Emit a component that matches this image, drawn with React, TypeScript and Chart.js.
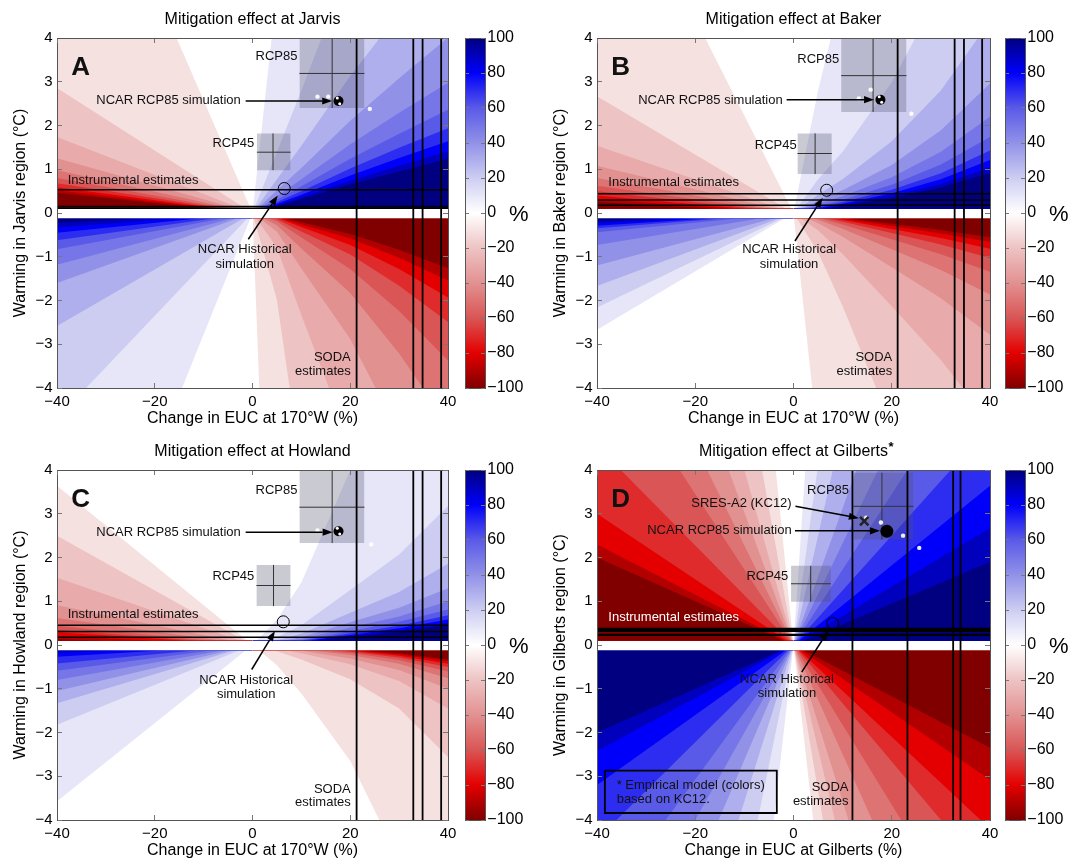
import React, { useEffect, useRef } from "react";
import { Chart, registerables } from "chart.js";

Chart.register(...registerables);

const FONT = '"Liberation Sans", Arial, Helvetica, sans-serif';
Chart.defaults.font.family = FONT;
Chart.defaults.color = "#000";

// ---------------- axes / scale data ----------------
const X_TICKS = [-40, -20, 0, 20, 40];
const Y_TICKS = [-4, -3, -2, -1, 0, 1, 2, 3, 4];
const COLORBAR_TICKS = [-100, -80, -60, -40, -20, 0, 20, 40, 60, 80, 100];
// contour levels (% mitigation) drawn as filled bands, and the |EUC change| samples of curved contours
const LEVELS = [5, 15, 25, 35, 45, 55, 65, 75, 85, 95];
const X_SAMPLES = [0, 5, 10, 20, 30, 40];

// ---------------- Jarvis (A) ----------------
// straight-ray quadrants: warming (°C) of each level contour at EUC change = -40 %
const jarvisUpperLeft = [10.3, 2.86, 1.74, 1.25, 0.98, 0.8, 0.68, 0.59, 0.52, 0.465];
const jarvisLowerLeft = [-11.1, -4.7, -2.58, -1.6, -1.18, -0.83, -0.62, -0.45, -0.33, -0.22];
// curved quadrants: warming of each level contour at X_SAMPLES
const jarvisUpperRight = [
  [0, 5.1, 10.2, 20.8, 30.3, 39.6],
  [0, 1.4, 2.8, 5.71, 8.3, 10.9],
  [0, 0.77, 1.54, 3.13, 4.57, 5.95],
  [0, 0.52, 1.03, 2.11, 3.08, 4.01],
  [0, 0.385, 0.77, 1.57, 2.29, 2.98],
  [0, 0.305, 0.61, 1.24, 1.81, 2.36],
  [0, 0.25, 0.5, 1.02, 1.49, 1.94],
  [0, 0.21, 0.42, 0.86, 1.26, 1.64],
  [0, 0.18, 0.365, 0.74, 1.08, 1.41],
  [0, 0.16, 0.32, 0.65, 0.95, 1.24],
];
const jarvisLowerRight = [
  [0, -14.4, -42, -96, -170, -250],
  [0, -1.99, -5.85, -13.2, -23, -35],
  [0, -0.79, -2.33, -5.28, -9.2, -13.9],
  [0, -0.43, -1.27, -2.88, -5.04, -7.6],
  [0, -0.28, -0.81, -1.83, -3.21, -4.83],
  [0, -0.19, -0.56, -1.28, -2.24, -3.37],
  [0, -0.14, -0.42, -0.95, -1.66, -2.49],
  [0, -0.11, -0.32, -0.73, -1.28, -1.93],
  [0, -0.09, -0.26, -0.58, -1.02, -1.54],
  [0, -0.07, -0.21, -0.48, -0.84, -1.26],
];
const jarvisInstrumental = [0.53, 0.15, 0.11];
const jarvisSoda = [21.3, 32.9, 34.8, 38.6];
const jarvisRcp85 = [9.6, 22.9, 2.4, 4.0, 16.3, 3.19]; // xmin, xmax, ymin, ymax, centre x, centre y
const jarvisRcp45 = [0.9, 7.8, 0.98, 1.82, 4.2, 1.39];
const jarvisNcarRcp85 = [{ x: 17.6, y: 2.56 }];
const jarvisNcarMembers = [{ x: 17.35, y: 2.63 }, { x: 17.85, y: 2.5 }];
const jarvisEnsemble = [{ x: 13.3, y: 2.66 }, { x: 15.5, y: 2.66 }, { x: 24, y: 2.38 }];
const jarvisHistorical = [{ x: 6.5, y: 0.56 }];

// ---------------- Baker (B) ----------------
const bakerUpperLeft = [8.9, 2.67, 1.54, 1.08, 0.8, 0.625, 0.5, 0.4, 0.32, 0.25];
const bakerLowerLeft = [-2.67, -2.16, -1.67, -1.2, -0.73, -0.44, -0.35, -0.29, -0.235, -0.18];
const bakerUpperRight = [
  [0, 2.8, 5.1, 10.9, 18.6, 29],
  [0, 0.77, 1.4, 2.99, 5.1, 8.0],
  [0, 0.42, 0.77, 1.64, 2.8, 4.39],
  [0, 0.284, 0.518, 1.1, 1.89, 2.96],
  [0, 0.211, 0.385, 0.82, 1.4, 2.2],
  [0, 0.167, 0.305, 0.648, 1.107, 1.74],
  [0, 0.137, 0.25, 0.533, 0.91, 1.43],
  [0, 0.116, 0.212, 0.45, 0.77, 1.21],
  [0, 0.1, 0.182, 0.388, 0.664, 1.04],
  [0, 0.088, 0.16, 0.34, 0.582, 0.913],
];
const bakerLowerRight = [
  [0, -5.26, -12.6, -28.6, -45, -64],
  [0, -0.895, -2.13, -4.87, -7.66, -10.9],
  [0, -0.392, -0.936, -2.13, -3.36, -4.79],
  [0, -0.228, -0.544, -1.24, -1.95, -2.78],
  [0, -0.152, -0.362, -0.827, -1.3, -1.86],
  [0, -0.11, -0.263, -0.599, -0.942, -1.34],
  [0, -0.084, -0.2, -0.457, -0.72, -1.03],
  [0, -0.067, -0.159, -0.363, -0.571, -0.815],
  [0, -0.054, -0.13, -0.296, -0.466, -0.665],
  [0, -0.046, -0.109, -0.248, -0.39, -0.556],
];
const bakerInstrumental = [0.44, 0.3, 0.18];
const bakerSoda = [21.2, 32.8, 34.7, 38.4];
const bakerRcp85 = [9.7, 23.0, 2.31, 4.0, 16.2, 3.14];
const bakerRcp45 = [0.8, 7.8, 0.89, 1.82, 4.4, 1.36];
const bakerNcarRcp85 = [{ x: 17.7, y: 2.59 }];
const bakerNcarMembers = [{ x: 17.45, y: 2.66 }, { x: 17.95, y: 2.53 }];
const bakerEnsemble = [{ x: 13.3, y: 2.62 }, { x: 15.7, y: 2.82 }, { x: 24, y: 2.27 }];
const bakerHistorical = [{ x: 6.75, y: 0.52 }];

// ---------------- Howland (C) ----------------
const howlandUpperLeft = [3.64, 2.5, 1.54, 0.91, 0.62, 0.44, 0.35, 0.29, 0.2, 0.133];
const howlandLowerLeft = [-3.57, -1.82, -1.33, -1.05, -0.8, -0.59, -0.42, -0.27, -0.18, -0.125];
const howlandUpperRight = [
  [0, 0.58, 1.43, 4.0, 6.6, 10.1],
  [0, 0.18, 0.45, 1.26, 2.07, 3.18],
  [0, 0.11, 0.26, 0.74, 1.21, 1.86],
  [0, 0.075, 0.18, 0.52, 0.85, 1.3],
  [0, 0.058, 0.14, 0.4, 0.65, 1.0],
  [0, 0.047, 0.11, 0.32, 0.53, 0.81],
  [0, 0.04, 0.096, 0.27, 0.44, 0.68],
  [0, 0.034, 0.082, 0.231, 0.381, 0.584],
  [0, 0.03, 0.072, 0.203, 0.334, 0.512],
  [0, 0.027, 0.064, 0.181, 0.298, 0.455],
];
const howlandLowerRight = [
  [0, -0.46, -1.11, -2.65, -4.92, -8.7],
  [0, -0.14, -0.33, -0.78, -1.45, -2.56],
  [0, -0.078, -0.19, -0.44, -0.82, -1.45],
  [0, -0.053, -0.13, -0.31, -0.57, -1.0],
  [0, -0.04, -0.097, -0.23, -0.43, -0.76],
  [0, -0.032, -0.078, -0.184, -0.343, -0.605],
  [0, -0.027, -0.064, -0.153, -0.285, -0.502],
  [0, -0.023, -0.055, -0.13, -0.243, -0.429],
  [0, -0.02, -0.048, -0.113, -0.212, -0.373],
  [0, -0.018, -0.042, -0.1, -0.187, -0.329],
];
const howlandInstrumental = [0.45, 0.31, 0.18];
const howlandSoda = [21.3, 32.9, 34.8, 38.6];
const howlandRcp85 = [9.6, 22.9, 2.33, 4.0, 16.3, 3.15];
const howlandRcp45 = [0.8, 7.8, 0.89, 1.83, 4.3, 1.36];
const howlandNcarRcp85 = [{ x: 17.6, y: 2.6 }];
const howlandNcarMembers = [{ x: 17.35, y: 2.67 }, { x: 17.85, y: 2.54 }];
const howlandEnsemble = [{ x: 13.3, y: 2.62 }, { x: 24.3, y: 2.3 }];
const howlandHistorical = [{ x: 6.3, y: 0.53 }];

// ---------------- Gilberts (D, empirical KC12 model: all straight rays) ----------------
const gilbertsUpperLeft = [44.4, 25, 16, 12.1, 9.1, 6.9, 4.55, 3.0, 2.3, 2.0];
const gilbertsLowerLeft = [-40, -22, -14.3, -10.5, -8, -6.15, -4.44, -3.2, -2.42, -2.0];
const gilbertsUpperRight = [67, 33, 20, 12.5, 9.3, 6.9, 5.0, 3.64, 2.67, 1.9]; // at EUC change = +40 %
const gilbertsLowerRight = [-40, -26.7, -19, -14.3, -10, -7.3, -5.33, -4.2, -3.08, -2.35];
const gilbertsInstrumental = [0.37, 0.32, 0.23];
const gilbertsSoda = [12.0, 23.2, 32.5, 34.0];
const gilbertsRcp85 = [12.2, 24.4, 2.41, 3.94, 18.0, 3.17];
const gilbertsRcp45 = [-0.5, 7.6, 0.99, 1.81, 3.5, 1.4];
const gilbertsNcarRcp85 = [{ x: 19.0, y: 2.6 }];
const gilbertsEnsemble = [{ x: 14.8, y: 2.91 }, { x: 17.8, y: 2.8 }, { x: 22.3, y: 2.5 }, { x: 25.6, y: 2.22 }];
const gilbertsHistorical = [{ x: 8.0, y: 0.49 }];
const gilbertsSresA2 = [{ x: 14.4, y: 2.83 }];

// ---------------- styles ----------------
const BLUE_BANDS = ["#e6e6f8", "#cdcdf2", "#afafed", "#9191e8", "#7676e8", "#5a5ae8", "#2d2df1", "#0000fa", "#0000bd", "#000080"];
const RED_BANDS = ["#f6e1e1", "#eec3c3", "#e8aaaa", "#e29191", "#de7373", "#da5555", "#df2b2b", "#e40000", "#b20000", "#800000"];
const COLORBAR_COLORS = ["#800000", "#e40000", "#da5555", "#e29191", "#eec3c3", "#ffffff", "#cdcdf2", "#9191e8", "#5a5ae8", "#0000fa", "#000080"];
const BOX_FILL = "rgba(80,80,110,0.3)";
const CROSS_COLOR = "#333";

const fmt = (v: number) => (v < 0 ? "\u2212" + Math.abs(v) : String(v));

type Pt = { x: number; y: number };

function contour(row: any, side: number): Pt[] {
  if (typeof row === "number") {
    return side < 0
      ? [{ x: -40, y: row }, { x: 0, y: 0 }]
      : [{ x: 0, y: 0 }, { x: 40, y: row }];
  }
  const pts = X_SAMPLES.map((x, i) => ({ x: side * x, y: row[i] }));
  return side < 0 ? pts.reverse() : pts;
}

function fillSet(data: Pt[], base: number, color: string) {
  return {
    data,
    fill: { value: base },
    backgroundColor: color,
    borderColor: "rgba(0,0,0,0)",
    borderWidth: 0,
    pointRadius: 0,
    tension: 0,
  };
}
function lineSet(data: Pt[], color: string, width: number) {
  return { data, fill: false, borderColor: color, borderWidth: width, pointRadius: 0, tension: 0 };
}
function pointSet(data: Pt[], o: any) {
  return {
    data,
    showLine: false,
    fill: false,
    pointRadius: o.r,
    pointHoverRadius: o.r,
    pointBackgroundColor: o.bg,
    pointBorderColor: o.border || o.bg,
    pointBorderWidth: o.bw || 0,
    pointStyle: o.style || "circle",
    borderColor: o.border || o.bg,
  };
}

const PANELS: any[] = [
  {
    left: 0, top: 0, width: 540, padRight: 92,
    title: "Mitigation effect at Jarvis", star: false,
    xTitle: "Change in EUC at 170°W (%)", yTitle: "Warming in Jarvis region (°C)",
    ul: jarvisUpperLeft, ll: jarvisLowerLeft, ur: jarvisUpperRight, lr: jarvisLowerRight,
    instrumental: jarvisInstrumental, instW: 1.5, soda: jarvisSoda, rcp85: jarvisRcp85, rcp45: jarvisRcp45,
    ncar: jarvisNcarRcp85, ncarR: 5, members: jarvisNcarMembers, ensemble: jarvisEnsemble, historical: jarvisHistorical,
    labels: [
      { text: "A", x: -37.1, y: 3.16, align: "left", size: 26, bold: true, baseline: "alphabetic" },
      { text: "RCP85", x: 9.2, y: 3.57, align: "right" },
      { text: "NCAR RCP85 simulation", x: -2.4, y: 2.58, align: "right" },
      { text: "RCP45", x: 0.37, y: 1.59, align: "right" },
      { text: "Instrumental estimates", x: -37.8, y: 0.74, align: "left" },
      { text: "NCAR Historical", x: -1.58, y: -0.84, align: "center" },
      { text: "simulation", x: -1.58, y: -1.18, align: "center" },
      { text: "SODA", x: 20.1, y: -3.3, align: "right" },
      { text: "estimates", x: 20.1, y: -3.63, align: "right" },
    ],
    arrows: [[-1.4, 2.56, 16.3, 2.56], [-0.86, -0.6, 5.16, 0.4]],
  },
  {
    left: 540, top: 0, width: 543, padRight: 93,
    title: "Mitigation effect at Baker", star: false,
    xTitle: "Change in EUC at 170°W (%)", yTitle: "Warming in Baker region (°C)",
    ul: bakerUpperLeft, ll: bakerLowerLeft, ur: bakerUpperRight, lr: bakerLowerRight,
    instrumental: bakerInstrumental, instW: 1.5, soda: bakerSoda, rcp85: bakerRcp85, rcp45: bakerRcp45,
    ncar: bakerNcarRcp85, ncarR: 5, members: bakerNcarMembers, ensemble: bakerEnsemble, historical: bakerHistorical,
    labels: [
      { text: "B", x: -37.1, y: 3.16, align: "left", size: 26, bold: true, baseline: "alphabetic" },
      { text: "RCP85", x: 9.3, y: 3.52, align: "right" },
      { text: "NCAR RCP85 simulation", x: -2.2, y: 2.58, align: "right" },
      { text: "RCP45", x: 0.65, y: 1.54, align: "right" },
      { text: "Instrumental estimates", x: -37.7, y: 0.69, align: "left" },
      { text: "NCAR Historical", x: -0.9, y: -0.83, align: "center" },
      { text: "simulation", x: -0.9, y: -1.17, align: "center" },
      { text: "SODA", x: 20.1, y: -3.3, align: "right" },
      { text: "estimates", x: 20.1, y: -3.63, align: "right" },
    ],
    arrows: [[-1.4, 2.59, 16.4, 2.59], [0.3, -0.64, 5.94, 0.35]],
  },
  {
    left: 0, top: 432, width: 540, padRight: 92,
    title: "Mitigation effect at Howland", star: false,
    xTitle: "Change in EUC at 170°W (%)", yTitle: "Warming in Howland region (°C)",
    ul: howlandUpperLeft, ll: howlandLowerLeft, ur: howlandUpperRight, lr: howlandLowerRight,
    instrumental: howlandInstrumental, instW: 1.5, soda: howlandSoda, rcp85: howlandRcp85, rcp45: howlandRcp45,
    ncar: howlandNcarRcp85, ncarR: 5, members: howlandNcarMembers, ensemble: howlandEnsemble, historical: howlandHistorical,
    labels: [
      { text: "C", x: -37.1, y: 3.16, align: "left", size: 26, bold: true, baseline: "alphabetic" },
      { text: "RCP85", x: 9.2, y: 3.53, align: "right" },
      { text: "NCAR RCP85 simulation", x: -2.4, y: 2.58, align: "right" },
      { text: "RCP45", x: 0.37, y: 1.56, align: "right" },
      { text: "Instrumental estimates", x: -37.8, y: 0.69, align: "left" },
      { text: "NCAR Historical", x: -1.3, y: -0.8, align: "center" },
      { text: "simulation", x: -1.3, y: -1.14, align: "center" },
      { text: "SODA", x: 20.1, y: -3.29, align: "right" },
      { text: "estimates", x: 20.1, y: -3.6, align: "right" },
    ],
    arrows: [[-1.4, 2.58, 16.4, 2.58], [-0.16, -0.56, 4.6, 0.32]],
  },
  {
    left: 540, top: 432, width: 543, padRight: 93,
    title: "Mitigation effect at Gilberts", star: true,
    xTitle: "Change in EUC at Gilberts (%)", yTitle: "Warming in Gilberts region (°C)",
    ul: gilbertsUpperLeft, ll: gilbertsLowerLeft, ur: gilbertsUpperRight, lr: gilbertsLowerRight,
    instrumental: gilbertsInstrumental, instW: 2.2, soda: gilbertsSoda, rcp85: gilbertsRcp85, rcp45: gilbertsRcp45,
    ncar: gilbertsNcarRcp85, ncarR: 6.5, members: [], ensemble: gilbertsEnsemble, historical: gilbertsHistorical,
    sres: gilbertsSresA2,
    noteBox: [-38.4, -3.4, -2.87, -3.84],
    labels: [
      { text: "D", x: -37.1, y: 3.16, align: "left", size: 26, bold: true, baseline: "alphabetic" },
      { text: "RCP85", x: 11.3, y: 3.54, align: "right" },
      { text: "SRES-A2 (KC12)", x: -0.37, y: 3.24, align: "right" },
      { text: "NCAR RCP85 simulation", x: -0.37, y: 2.61, align: "right" },
      { text: "RCP45", x: -1.06, y: 1.57, align: "right" },
      { text: "Instrumental estimates", x: -37.7, y: 0.64, align: "left", color: "#ffffff" },
      { text: "NCAR Historical", x: -1.32, y: -0.78, align: "center" },
      { text: "simulation", x: -1.32, y: -1.11, align: "center" },
      { text: "SODA", x: 11.2, y: -3.25, align: "right" },
      { text: "estimates", x: 11.2, y: -3.57, align: "right" },
      { text: "* Empirical model (colors)", x: -36.0, y: -3.21, align: "left" },
      { text: "based on KC12.", x: -36.0, y: -3.52, align: "left" },
    ],
    arrows: [[0.4, 3.17, 13.3, 2.9], [0.3, 2.61, 17.6, 2.61], [1.67, -0.62, 7.1, 0.33]],
  },
];

const COLORBARS = [
  { left: 460, top: 0, width: 80 },
  { left: 1000, top: 0, width: 83 },
  { left: 460, top: 432, width: 80 },
  { left: 1000, top: 432, width: 83 },
];

function buildDatasets(p: any) {
  const sets: any[] = [];
  p.ul.forEach((row: any, j: number) => sets.push(fillSet(contour(row, -1), 0.1, RED_BANDS[j])));
  p.ll.forEach((row: any, j: number) => sets.push(fillSet(contour(row, -1), -0.12, BLUE_BANDS[j])));
  p.ur.forEach((row: any, j: number) => sets.push(fillSet(contour(row, 1), 0.1, BLUE_BANDS[j])));
  p.lr.forEach((row: any, j: number) => sets.push(fillSet(contour(row, 1), -0.12, RED_BANDS[j])));
  // undefined strip around zero warming
  sets.push(fillSet([{ x: -40, y: 0.09 }, { x: 40, y: 0.09 }], -0.12, "#ffffff"));
  for (const b of [p.rcp85, p.rcp45]) {
    const [x1, x2, y1, y2, cx, cy] = b;
    sets.push(fillSet([{ x: x1, y: y2 }, { x: x2, y: y2 }], y1, BOX_FILL));
    sets.push(lineSet([{ x: cx, y: y1 }, { x: cx, y: y2 }], CROSS_COLOR, 1));
    sets.push(lineSet([{ x: x1, y: cy }, { x: x2, y: cy }], CROSS_COLOR, 1));
  }
  p.instrumental.forEach((y: number) => sets.push(lineSet([{ x: -40, y }, { x: 40, y }], "#000", p.instW)));
  p.soda.forEach((x: number) => sets.push(lineSet([{ x, y: -4 }, { x, y: 4 }], "#000", 1.8)));
  if (p.noteBox) {
    const [x1, x2, y1, y2] = p.noteBox;
    sets.push(lineSet([{ x: x1, y: y1 }, { x: x2, y: y1 }, { x: x2, y: y2 }, { x: x1, y: y2 }, { x: x1, y: y1 }], "#000", 1.8));
  }
  sets.push(pointSet(p.ensemble, { r: 2.2, bg: "rgba(255,255,255,0.92)" }));
  sets.push(pointSet(p.ncar, { r: p.ncarR, bg: "#000" }));
  if (p.members.length) sets.push(pointSet(p.members, { r: 1.5, bg: "#ffffff" }));
  sets.push(pointSet(p.historical, { r: 6, bg: "rgba(0,0,0,0)", border: "#000", bw: 1 }));
  if (p.sres) sets.push(pointSet(p.sres, { r: 6, bg: "rgba(0,0,0,0)", border: "#222", bw: 2.5, style: "crossRot" }));
  return sets.map((s, i) => ({ ...s, order: -i }));
}

function drawArrow(ctx: CanvasRenderingContext2D, x1: number, y1: number, x2: number, y2: number) {
  const a = Math.atan2(y2 - y1, x2 - x1);
  const L = 10, W = 3.6;
  const bx = x2 - L * Math.cos(a), by = y2 - L * Math.sin(a);
  ctx.strokeStyle = "#000";
  ctx.lineWidth = 1.5;
  ctx.beginPath();
  ctx.moveTo(x1, y1);
  ctx.lineTo(bx, by);
  ctx.stroke();
  ctx.fillStyle = "#000";
  ctx.beginPath();
  ctx.moveTo(x2, y2);
  ctx.lineTo(bx + W * Math.sin(a), by - W * Math.cos(a));
  ctx.lineTo(bx - W * Math.sin(a), by + W * Math.cos(a));
  ctx.closePath();
  ctx.fill();
}

function annotationPlugin(p: any) {
  return {
    id: "annotations",
    afterDraw(chart: any) {
      const { ctx, chartArea, scales } = chart;
      const px = (v: number) => scales.x.getPixelForValue(v);
      const py = (v: number) => scales.y.getPixelForValue(v);
      ctx.save();
      // panel title
      ctx.font = `16px ${FONT}`;
      ctx.fillStyle = "#000";
      ctx.textAlign = "center";
      ctx.textBaseline = "middle";
      const cx = (chartArea.left + chartArea.right) / 2;
      ctx.fillText(p.title, cx, chartArea.top - 18);
      if (p.star) {
        const w = ctx.measureText(p.title).width;
        ctx.font = `bold 13px ${FONT}`;
        ctx.textAlign = "left";
        ctx.fillText("*", cx + w / 2 + 0.5, chartArea.top - 23);
      }
      // clip annotations to plotting area
      ctx.beginPath();
      ctx.rect(chartArea.left, chartArea.top, chartArea.right - chartArea.left, chartArea.bottom - chartArea.top);
      ctx.clip();
      for (const a of p.arrows) drawArrow(ctx, px(a[0]), py(a[1]), px(a[2]), py(a[3]));
      for (const l of p.labels) {
        ctx.font = `${l.bold ? "bold " : ""}${l.size || 13}px ${FONT}`;
        ctx.fillStyle = l.color || "#111";
        ctx.textAlign = l.align;
        ctx.textBaseline = l.baseline || "middle";
        ctx.fillText(l.text, px(l.x), py(l.y));
      }
      ctx.restore();
    },
  };
}

function mainConfig(p: any): any {
  const tickFont = { family: FONT, size: 15 };
  const grid = { display: true, drawOnChartArea: false, drawTicks: true, tickLength: -5, color: "#777", lineWidth: 1, z: 1 };
  const border = { display: true, color: "#555", width: 1, z: 1 };
  const xTicks = (s: any) => { s.ticks = X_TICKS.map((v) => ({ value: v })); };
  const yTicks = (s: any) => { s.ticks = Y_TICKS.map((v) => ({ value: v })); };
  return {
    type: "line",
    data: { datasets: buildDatasets(p) },
    options: {
      animation: false,
      responsive: false,
      maintainAspectRatio: false,
      events: [],
      layout: { padding: { left: 0, right: p.padRight, top: 38, bottom: 0 } },
      plugins: { legend: { display: false }, tooltip: { enabled: false }, title: { display: false } },
      scales: {
        x: {
          type: "linear", position: "bottom", min: -40, max: 40,
          afterBuildTicks: xTicks,
          afterFit: (s: any) => { s.height = 44; },
          ticks: { callback: (v: any) => fmt(Number(v)), font: tickFont, color: "#000", padding: 9.5, maxRotation: 0, autoSkip: false },
          grid, border,
          title: { display: true, text: p.xTitle, font: { family: FONT, size: 16 }, color: "#000", padding: { top: 0, bottom: 3.9 } },
        },
        y: {
          type: "linear", position: "left", min: -4, max: 4,
          afterBuildTicks: yTicks,
          afterFit: (s: any) => { s.width = 57; },
          ticks: { callback: (v: any) => fmt(Number(v)), font: tickFont, color: "#000", padding: 9.5, autoSkip: false },
          grid, border,
          title: { display: true, text: p.yTitle, font: { family: FONT, size: 16 }, color: "#000", padding: { top: 11.2, bottom: 0 } },
        },
        x2: {
          type: "linear", position: "top", min: -40, max: 40,
          afterBuildTicks: xTicks,
          afterFit: (s: any) => { s.height = 0; },
          ticks: { display: false },
          grid, border,
        },
        y2: {
          type: "linear", position: "right", min: -4, max: 4,
          afterBuildTicks: yTicks,
          afterFit: (s: any) => { s.width = 0; },
          ticks: { display: false },
          grid, border,
        },
      },
    },
    plugins: [annotationPlugin(p)],
  };
}

function colorbarConfig(c: any): any {
  const grid = { display: true, drawOnChartArea: false, drawTicks: true, tickLength: -4, color: "#777", z: 1 };
  const border = { display: true, color: "#555", width: 1, z: 1 };
  const cbTicks = (s: any) => { s.ticks = COLORBAR_TICKS.map((v) => ({ value: v })); };
  return {
    type: "line",
    data: {
      datasets: [
        {
          data: [{ x: 0, y: 100 }, { x: 1, y: 100 }],
          fill: { value: -100 },
          borderColor: "rgba(0,0,0,0)",
          borderWidth: 0,
          pointRadius: 0,
          backgroundColor: (ctx: any) => {
            const chart = ctx.chart;
            const ys = chart.scales && chart.scales.y;
            if (!ys || !chart.chartArea) return "#ffffff";
            const g = chart.ctx.createLinearGradient(0, ys.getPixelForValue(-100), 0, ys.getPixelForValue(100));
            COLORBAR_TICKS.forEach((v, i) => g.addColorStop((v + 100) / 200, COLORBAR_COLORS[i]));
            return g;
          },
        },
      ],
    },
    options: {
      animation: false,
      responsive: false,
      maintainAspectRatio: false,
      events: [],
      layout: { padding: { left: 5, right: 0, top: 38, bottom: 44 } },
      plugins: { legend: { display: false }, tooltip: { enabled: false }, title: { display: false } },
      scales: {
        x: { type: "linear", position: "bottom", min: 0, max: 1, afterFit: (s: any) => { s.height = 0; }, ticks: { display: false }, grid: { display: false }, border },
        x2: { type: "linear", position: "top", min: 0, max: 1, afterFit: (s: any) => { s.height = 0; }, ticks: { display: false }, grid: { display: false }, border },
        y: {
          type: "linear", position: "right", min: -100, max: 100,
          afterBuildTicks: cbTicks,
          afterFit: (s: any) => { s.width = c.width - 25; },
          ticks: { callback: (v: any) => fmt(Number(v)), font: { family: FONT, size: 16 }, color: "#000", padding: 6.3, autoSkip: false },
          grid, border,
        },
        y2: {
          type: "linear", position: "left", min: -100, max: 100,
          afterBuildTicks: cbTicks,
          afterFit: (s: any) => { s.width = 0; },
          ticks: { display: false },
          grid, border,
        },
      },
    },
    plugins: [
      {
        id: "percent",
        afterDraw(chart: any) {
          const { ctx, chartArea, scales } = chart;
          ctx.save();
          ctx.font = `22px ${FONT}`;
          ctx.fillStyle = "#000";
          ctx.textAlign = "left";
          ctx.textBaseline = "middle";
          ctx.fillText("%", chartArea.right + 24, scales.y.getPixelForValue(0) + 2);
          ctx.restore();
        },
      },
    ],
  };
}

function PanelChart({ p }: { p: any }) {
  const ref = useRef<HTMLCanvasElement>(null);
  useEffect(() => {
    const chart = new Chart(ref.current as HTMLCanvasElement, mainConfig(p));
    return () => chart.destroy();
  }, [p]);
  return (
    <canvas
      ref={ref}
      width={p.width}
      height={432}
      style={{ position: "absolute", left: p.left, top: p.top, width: p.width, height: 432, display: "block" }}
    />
  );
}

function ColorbarChart({ c }: { c: any }) {
  const ref = useRef<HTMLCanvasElement>(null);
  useEffect(() => {
    const chart = new Chart(ref.current as HTMLCanvasElement, colorbarConfig(c));
    return () => chart.destroy();
  }, [c]);
  return (
    <canvas
      ref={ref}
      width={c.width}
      height={432}
      style={{ position: "absolute", left: c.left, top: c.top, width: c.width, height: 432, display: "block" }}
    />
  );
}

export default function App() {
  return (
    <div
      style={{
        position: "absolute",
        left: 0,
        top: 0,
        width: 1083,
        height: 859,
        overflow: "hidden",
        background: "#ffffff",
      }}
    >
      {PANELS.map((p, i) => (
        <PanelChart key={"p" + i} p={p} />
      ))}
      {COLORBARS.map((c, i) => (
        <ColorbarChart key={"c" + i} c={c} />
      ))}
    </div>
  );
}
